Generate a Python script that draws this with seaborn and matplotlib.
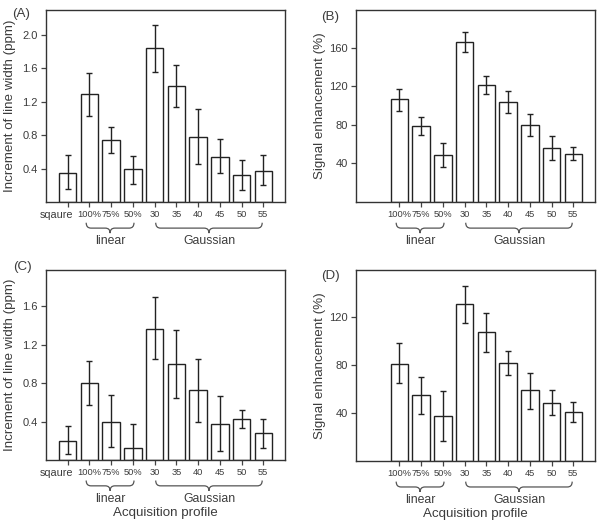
import numpy as np
import pandas as pd
import matplotlib
matplotlib.use("Agg")
import matplotlib.pyplot as plt
from matplotlib.path import Path
from matplotlib.patches import PathPatch
import matplotlib.transforms as mtransforms
import seaborn as sns

# ---------------- data ----------------
categories = ["sqaure", "100%", "75%", "50%", "30", "35", "40", "45", "50", "55"]
tick_labels = ["sqaure", "100%", "75%", "50%", "30", "35", "40", "45", "50", "55"]

# (A) increment of line width (ppm)
a_vals = [0.35, 1.29, 0.74, 0.39, 1.84, 1.39, 0.78, 0.54, 0.32, 0.37]
a_lo   = [0.15, 1.03, 0.59, 0.22, 1.56, 1.14, 0.45, 0.35, 0.14, 0.20]
a_hi   = [0.56, 1.54, 0.90, 0.55, 2.12, 1.64, 1.11, 0.75, 0.50, 0.56]

# (B) signal enhancement (%)  -- no "sqaure"
b_cats = categories[1:]
b_vals = [106.5, 79, 48.6, 166, 121.4, 103.4, 79.8, 56.2, 50]
b_lo   = [94.7, 69.4, 35.8, 155.6, 112, 92, 68.4, 43.4, 43.1]
b_hi   = [117.5, 88.4, 61.4, 176, 131, 115.1, 91, 68.4, 57]

# (C) increment of line width (ppm)
c_vals = [0.20, 0.80, 0.40, 0.127, 1.37, 1.00, 0.727, 0.38, 0.43, 0.28]
c_lo   = [0.065, 0.57, 0.135, 0.0, 1.048, 0.648, 0.40, 0.095, 0.33, 0.13]
c_hi   = [0.35, 1.03, 0.675, 0.38, 1.70, 1.35, 1.055, 0.668, 0.52, 0.43]

# (D) signal enhancement (%)  -- no "sqaure"
d_cats = categories[1:]
d_vals = [80.8, 54.9, 37.2, 130.5, 107.1, 81.9, 58.7, 48.3, 40.5]
d_lo   = [64.8, 39.2, 16.5, 114.8, 91, 72, 43.6, 38, 32.2]
d_hi   = [98.5, 70.3, 57.9, 145.7, 123.6, 91.6, 73.4, 59, 49.4]

groups = [("linear", 0.85, 3.05), ("Gaussian", 4.05, 8.95)]

# ---------------- style ----------------
sns.set_theme(style="ticks")
plt.rcParams["font.family"] = ["Liberation Sans", "DejaVu Sans"]
TICK_SIZE = 6.7
TXT = "#3c3c3c"
EDGE = "#222222"

W, H = 600, 523
fig = plt.figure(figsize=(W / 100, H / 100), dpi=100)


def px_axes(l, t, r, b):
    return fig.add_axes([l / W, (H - b) / H, (r - l) / W, (b - t) / H])


def draw_brace(ax, x0, x1, label):
    trans = mtransforms.blended_transform_factory(ax.transData, ax.transAxes)
    ytop, ymid, ybot = -0.108, -0.136, -0.162
    xc = (x0 + x1) / 2
    r = 0.22
    verts = [(x0, ytop), (x0, ymid), (x0 + r, ymid),
             (xc - r, ymid),
             (xc, ymid), (xc, ybot),
             (xc, ymid), (xc + r, ymid),
             (x1 - r, ymid),
             (x1, ymid), (x1, ytop)]
    codes = [Path.MOVETO, Path.CURVE3, Path.CURVE3,
             Path.LINETO,
             Path.CURVE3, Path.CURVE3,
             Path.CURVE3, Path.CURVE3,
             Path.LINETO,
             Path.CURVE3, Path.CURVE3]
    patch = PathPatch(Path(verts, codes), transform=trans, fill=False,
                      edgecolor="#555555", lw=0.9, clip_on=False)
    ax.add_patch(patch)
    ax.text(xc, -0.205, label, transform=trans, ha="center", va="center",
            fontsize=8.8, color=TXT)


def panel(ax, cats, vals, lo, hi, ylim, yticks, ylabel, show_square, xlabel=False):
    df = pd.DataFrame({"profile": cats, "value": vals})
    sns.barplot(data=df, x="profile", y="value", order=categories, ax=ax,
                color="white", edgecolor=EDGE, linewidth=1.0, width=0.8,
                errorbar=None, saturation=1)
    bars = ax.containers[0]
    xs = [p.get_x() + p.get_width() / 2 for p in bars]
    v = np.array(vals)
    ax.errorbar(xs, v, yerr=[v - np.array(lo), np.array(hi) - v], fmt="none",
                ecolor=EDGE, elinewidth=1.0, capsize=2.3, capthick=1.0)
    ax.set_xlim(-1, 10)
    ax.set_ylim(*ylim)
    ax.set_yticks(yticks)
    ax.set_yticklabels([f"{t:g}" if isinstance(t, int) else f"{t:.1f}" for t in yticks])
    if show_square:
        ax.set_xticks(range(len(categories)))
        ax.set_xticklabels([""] + tick_labels[1:])
        # the first label sits slightly left of its tick, as in the original
        trans = mtransforms.blended_transform_factory(ax.transData, ax.transAxes)
        ax.text(0.25, -0.068, tick_labels[0], transform=trans, ha="right",
                va="center", fontsize=7.8, color=TXT)
    else:
        ax.set_xticks(range(1, len(categories)))
        ax.set_xticklabels(tick_labels[1:])
    for lab in ax.get_xticklabels():
        lab.set_fontsize(TICK_SIZE)
    for lab in ax.get_yticklabels():
        lab.set_fontsize(8.0)
    ax.set_xlabel("")
    ax.set_ylabel(ylabel, fontsize=9.6, color=TXT)
    ax.yaxis.set_label_coords(-0.125, 0.5)
    ax.tick_params(axis="both", length=3.5, width=0.9, colors="#444444",
                   labelcolor=TXT, pad=2.5)
    for s in ax.spines.values():
        s.set_visible(True)
        s.set_color("#333333")
        s.set_linewidth(1.0)
    for name, x0, x1 in groups:
        draw_brace(ax, x0, x1, name)
    if xlabel:
        ax.text(0.5, -0.28, "Acquisition profile", transform=ax.transAxes,
                ha="center", va="center", fontsize=9.6, color=TXT)


axA = px_axes(46, 10, 285, 202)
axB = px_axes(356, 10, 595, 202)
axC = px_axes(46, 270, 285, 460)
axD = px_axes(356, 270, 595, 461)

panel(axA, categories, a_vals, a_lo, a_hi, (0, 2.3), [0.4, 0.8, 1.2, 1.6, 2.0],
      "Increment of line width (ppm)", True)
panel(axB, b_cats, b_vals, b_lo, b_hi, (0, 199), [40, 80, 120, 160],
      "Signal enhancement (%)", False)
panel(axC, categories, c_vals, c_lo, c_hi, (0, 1.98), [0.4, 0.8, 1.2, 1.6],
      "Increment of line width (ppm)", True, xlabel=True)
panel(axD, d_cats, d_vals, d_lo, d_hi, (0, 159), [40, 80, 120],
      "Signal enhancement (%)", False, xlabel=True)

for lab, x, y in [("(A)", 21, 14), ("(B)", 330, 17), ("(C)", 22, 267), ("(D)", 330, 276)]:
    fig.text(x / W, 1 - y / H, lab, ha="center", va="center", fontsize=9.6, color=TXT)

fig.savefig("out.png", dpi=100)
